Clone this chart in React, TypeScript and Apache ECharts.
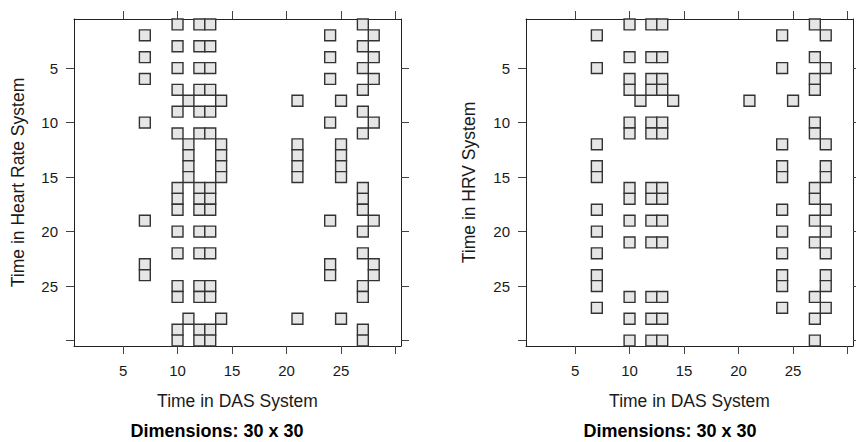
import React, { useEffect, useRef } from "react";
import * as echarts from "echarts";

// Tick positions and labels (same on both panels)
const tickValues = [5, 10, 15, 20, 25, 30];
const tickLabels = [5, 10, 15, 20, 25];

// Columns (Time in DAS System) filled for each row 1..30 (Time in Heart Rate System)
const heartRateRows: number[][] = [
  [10, 12, 13, 27],
  [7, 24, 28],
  [10, 12, 13, 27],
  [7, 24, 28],
  [10, 12, 13, 27],
  [7, 24, 28],
  [10, 12, 13, 27],
  [11, 14, 21, 25],
  [10, 12, 13, 27],
  [7, 24, 28],
  [10, 12, 13, 27],
  [11, 14, 21, 25],
  [11, 14, 21, 25],
  [11, 14, 21, 25],
  [11, 14, 21, 25],
  [10, 12, 13, 27],
  [10, 12, 13, 27],
  [10, 12, 13, 27],
  [7, 24, 28],
  [10, 12, 13, 27],
  [],
  [10, 12, 13, 27],
  [7, 24, 28],
  [7, 24, 28],
  [10, 12, 13, 27],
  [10, 12, 13, 27],
  [],
  [11, 14, 21, 25],
  [10, 12, 13, 27],
  [10, 12, 13, 27],
];

// Columns filled for each row 1..30 (Time in HRV System)
const hrvRows: number[][] = [
  [10, 12, 13, 27],
  [7, 24, 28],
  [],
  [10, 12, 13, 27],
  [7, 24, 28],
  [10, 12, 13, 27],
  [10, 12, 13, 27],
  [11, 14, 21, 25],
  [],
  [10, 12, 13, 27],
  [10, 12, 13, 27],
  [7, 24, 28],
  [],
  [7, 24, 28],
  [7, 24, 28],
  [10, 12, 13, 27],
  [10, 12, 13, 27],
  [7, 24, 28],
  [10, 12, 13, 27],
  [7, 24, 28],
  [10, 12, 13, 27],
  [7, 24, 28],
  [],
  [7, 24, 28],
  [7, 24, 28],
  [10, 12, 13, 27],
  [7, 24, 28],
  [10, 12, 13, 27],
  [],
  [10, 12, 13, 27],
];

const xTitle = "Time in DAS System";
const yTitles = ["Time in Heart Rate System", "Time in HRV System"];
const panelTitle = "Dimensions: 30 x 30";

const FONT = "'Liberation Sans', Arial, Helvetica, sans-serif";

function toCells(rows: number[][]): number[][] {
  const out: number[][] = [];
  rows.forEach((cols, i) => cols.forEach((c) => out.push([c, i + 1])));
  return out;
}

const GRID_TOP = 19;
const GRID_SIZE = 327;
const GRID_LEFTS = [74, 526];

function axisCommon(gridIndex: number, position: string, showLabel: boolean, isY: boolean) {
  return {
    type: "value",
    gridIndex,
    position,
    min: 0.5,
    max: 30.5,
    inverse: isY,
    axisLine: { show: true, onZero: false, lineStyle: { color: "#222", width: 1 } },
    axisTick: {
      show: true,
      inside: false,
      length: 8,
      customValues: tickValues,
      lineStyle: { color: "#444", width: 1 },
    },
    axisLabel: {
      show: showLabel,
      customValues: tickLabels,
      margin: isY ? 16 : 17,
      fontSize: 15,
      color: "#1a1a1a",
      fontFamily: FONT,
    },
    splitLine: { show: false },
  };
}

export default function App() {
  const ref = useRef<HTMLDivElement>(null);

  useEffect(() => {
    if (!ref.current) return;
    const chart = echarts.init(ref.current, undefined, { renderer: "svg" });

    const renderItem = (params: any, api: any) => {
      const x = api.value(0);
      const y = api.value(1);
      const p1 = api.coord([x - 0.5, y - 0.5]);
      const p2 = api.coord([x + 0.5, y + 0.5]);
      return {
        type: "rect",
        shape: {
          x: Math.min(p1[0], p2[0]),
          y: Math.min(p1[1], p2[1]),
          width: Math.abs(p2[0] - p1[0]),
          height: Math.abs(p2[1] - p1[1]),
        },
        style: { fill: "#e6e6e6", stroke: "#333", lineWidth: 1.4 },
      };
    };

    const grids = GRID_LEFTS.map((left) => ({
      left,
      top: GRID_TOP,
      width: GRID_SIZE,
      height: GRID_SIZE,
      containLabel: false,
    }));

    const xAxis: any[] = [];
    const yAxis: any[] = [];
    [0, 1].forEach((g) => {
      xAxis.push(axisCommon(g, "bottom", true, false));
      xAxis.push(axisCommon(g, "top", false, false));
      yAxis.push(axisCommon(g, "left", true, true));
      yAxis.push(axisCommon(g, "right", false, true));
    });

    const datasets = [toCells(heartRateRows), toCells(hrvRows)];
    const series = datasets.map((data, g) => ({
      type: "custom",
      xAxisIndex: g * 2,
      yAxisIndex: g * 2,
      data,
      encode: { x: 0, y: 1 },
      renderItem,
      clip: false,
      silent: true,
    }));

    const graphic: any[] = [];
    GRID_LEFTS.forEach((left, g) => {
      const cx = left + GRID_SIZE / 2;
      graphic.push({
        type: "text",
        x: cx,
        y: 401,
        style: {
          text: xTitle,
          fontSize: 17.5,
          fontFamily: FONT,
          fill: "#1a1a1a",
          textAlign: "center",
          textVerticalAlign: "middle",
        },
      });
      graphic.push({
        type: "text",
        x: g === 0 ? 217 : 670,
        y: 431,
        style: {
          text: panelTitle,
          fontSize: 18,
          fontWeight: "bold",
          fontFamily: FONT,
          fill: "#000",
          textAlign: "center",
          textVerticalAlign: "middle",
        },
      });
      graphic.push({
        type: "text",
        x: g === 0 ? 18 : 469,
        y: GRID_TOP + GRID_SIZE / 2,
        rotation: Math.PI / 2,
        style: {
          text: yTitles[g],
          fontSize: 17.5,
          fontFamily: FONT,
          fill: "#1a1a1a",
          textAlign: "center",
          textVerticalAlign: "middle",
        },
      });
    });

    chart.setOption({
      animation: false,
      backgroundColor: "#ffffff",
      grid: grids,
      xAxis,
      yAxis,
      series,
      graphic,
    });

    return () => chart.dispose();
  }, []);

  return (
    <div
      ref={ref}
      style={{ position: "fixed", left: 0, top: 0, width: 856, height: 442 }}
    />
  );
}
